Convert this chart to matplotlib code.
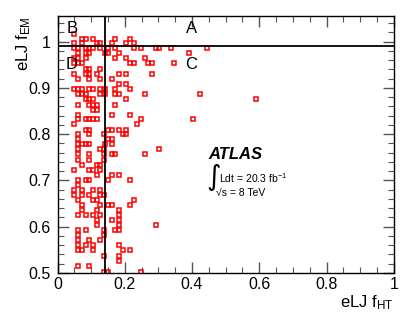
import matplotlib
matplotlib.use("Agg")
import matplotlib.pyplot as plt
import numpy as np
from matplotlib.ticker import MultipleLocator

plt.rcParams['font.family'] = ['Liberation Sans', 'DejaVu Sans']
plt.rcParams['mathtext.fontset'] = 'custom'
plt.rcParams['mathtext.rm'] = 'Liberation Sans'
plt.rcParams['mathtext.it'] = 'Liberation Sans:italic'

# event rows: (f_EM value, list of f_HT values)
rows = [
    (1.017, [0.049]),
    (1.006, [0.072, 0.085, 0.106, 0.171, 0.215]),
    (0.996, [0.049, 0.072, 0.116, 0.126, 0.161, 0.204, 0.227]),
    (0.985, [0.049, 0.062, 0.085, 0.095, 0.106, 0.126, 0.149, 0.171, 0.227,
             0.248, 0.293, 0.302, 0.336, 0.445]),
    (0.975, [0.062, 0.085, 0.095, 0.141, 0.149, 0.183, 0.392]),
    (0.964, [0.049, 0.062, 0.085, 0.171, 0.204, 0.260]),
    (0.953, [0.049, 0.062, 0.072, 0.215, 0.227, 0.270, 0.282, 0.346]),
    (0.940, [0.085, 0.095, 0.126]),
    (0.930, [0.049, 0.085, 0.095, 0.116, 0.183, 0.204, 0.282]),
    (0.919, [0.062, 0.095, 0.126, 0.161]),
    (0.908, [0.183, 0.204]),
    (0.897, [0.049, 0.062, 0.072, 0.095, 0.106, 0.126, 0.141, 0.171, 0.215]),
    (0.886, [0.062, 0.072, 0.085, 0.126, 0.141, 0.171, 0.183, 0.260, 0.424]),
    (0.875, [0.085, 0.095, 0.106, 0.204, 0.589]),
    (0.864, [0.062, 0.095, 0.106, 0.116, 0.171]),
    (0.853, [0.106, 0.116]),
    (0.841, [0.062, 0.161, 0.215]),
    (0.832, [0.062, 0.085, 0.095, 0.106, 0.116, 0.248, 0.402]),
    (0.821, [0.049, 0.237]),
    (0.810, [0.085, 0.095, 0.149, 0.161, 0.183, 0.204]),
    (0.800, [0.062, 0.095, 0.139, 0.194, 0.204]),
    (0.789, [0.062, 0.149, 0.161]),
    (0.778, [0.062, 0.072, 0.085, 0.095, 0.141, 0.161]),
    (0.767, [0.062, 0.126, 0.139, 0.302]),
    (0.756, [0.062, 0.095, 0.139, 0.161, 0.171, 0.260]),
    (0.744, [0.062, 0.095, 0.139]),
    (0.733, [0.072, 0.116, 0.126]),
    (0.722, [0.049, 0.095, 0.106, 0.126]),
    (0.712, [0.116, 0.161, 0.183]),
    (0.701, [0.062, 0.085, 0.095, 0.149, 0.215]),
    (0.690, [0.062]),
    (0.679, [0.049, 0.072, 0.106, 0.126]),
    (0.669, [0.049, 0.072, 0.095, 0.126, 0.139]),
    (0.658, [0.062, 0.106, 0.116, 0.227]),
    (0.647, [0.072, 0.126, 0.149, 0.161, 0.215]),
    (0.636, [0.072, 0.116, 0.183]),
    (0.625, [0.062, 0.085, 0.106, 0.126, 0.183]),
    (0.615, [0.116, 0.161, 0.183]),
    (0.604, [0.116, 0.183, 0.293]),
    (0.593, [0.062, 0.085, 0.139, 0.171, 0.183]),
    (0.582, [0.062, 0.139]),
    (0.571, [0.062, 0.095, 0.126]),
    (0.561, [0.062, 0.085, 0.106, 0.183]),
    (0.550, [0.062, 0.072, 0.106, 0.194, 0.215]),
    (0.537, [0.139, 0.183]),
    (0.526, [0.183]),
    (0.515, [0.062, 0.095]),
    (0.502, [0.139, 0.149, 0.248]),
]

f_ht = [x for y, xs in rows for x in xs]
f_em = [y for y, xs in rows for x in xs]

cut_ht = 0.141
cut_em = 0.99

x_ticks = [0, 0.2, 0.4, 0.6, 0.8, 1.0]
x_ticklabels = ['0', '0.2', '0.4', '0.6', '0.8', '1']
y_ticks = [0.5, 0.6, 0.7, 0.8, 0.9, 1.0]
y_ticklabels = ['0.5', '0.6', '0.7', '0.8', '0.9', '1']

fig = plt.figure(figsize=(4.15, 3.19), dpi=100)
ax = fig.add_axes([0.1386, 0.1442, 0.8104, 0.8068])

ax.plot(f_ht, f_em, linestyle='none', marker='s', markersize=2.7,
        markerfacecolor='none', markeredgecolor='red', markeredgewidth=1.1)

ax.axvline(cut_ht, color='black', lw=1.3)
ax.axhline(cut_em, color='black', lw=1.3)

ax.set_xticks(x_ticks)
ax.set_xticklabels(x_ticklabels)
ax.set_yticks(y_ticks)
ax.set_yticklabels(y_ticklabels)
ax.xaxis.set_minor_locator(MultipleLocator(0.05))
ax.yaxis.set_minor_locator(MultipleLocator(0.02))
ax.set_xlim(0, 1)
ax.set_ylim(0.5, 1.056)
ax.tick_params(which='both', direction='in', top=True, right=True,
               labelsize=11.5, color='#555555')
ax.tick_params(which='major', length=8, width=1.0)
ax.tick_params(which='minor', length=4, width=0.8)
ax.tick_params(axis='x', pad=3)
ax.tick_params(axis='y', pad=5)
for s in ax.spines.values():
    s.set_linewidth(1.0)

fig.text(0.949, 0.05, r'eLJ f$_{\mathrm{HT}}$', ha='right', va='center',
         fontsize=12)
fig.text(0.058, 0.95, r'eLJ f$_{\mathrm{EM}}$', ha='center', va='top',
         rotation=90, fontsize=12)

for lab, x, y in [('B', 0.043, 1.029), ('A', 0.397, 1.029),
                  ('D', 0.043, 0.951), ('C', 0.397, 0.951)]:
    ax.text(x, y, lab, ha='center', va='center', fontsize=12)

fig.text(208 / 415, 1 - 154 / 319, 'ATLAS', fontsize=12, fontweight='bold',
         style='italic', ha='left', va='center')
fig.text(206 / 415, 1 - 177 / 319, '\u222b', fontsize=20, ha='left',
         va='center', family=['DejaVu Sans'])
fig.text(219 / 415, 1 - 178 / 319, r'Ldt = 20.3 fb$^{-1}$', fontsize=7.5,
         ha='left', va='center')
fig.text(216 / 415, 1 - 193 / 319, '\u221as = 8 TeV', fontsize=7.5,
         ha='left', va='center')

plt.savefig('out.png', dpi=100)
plt.close()
